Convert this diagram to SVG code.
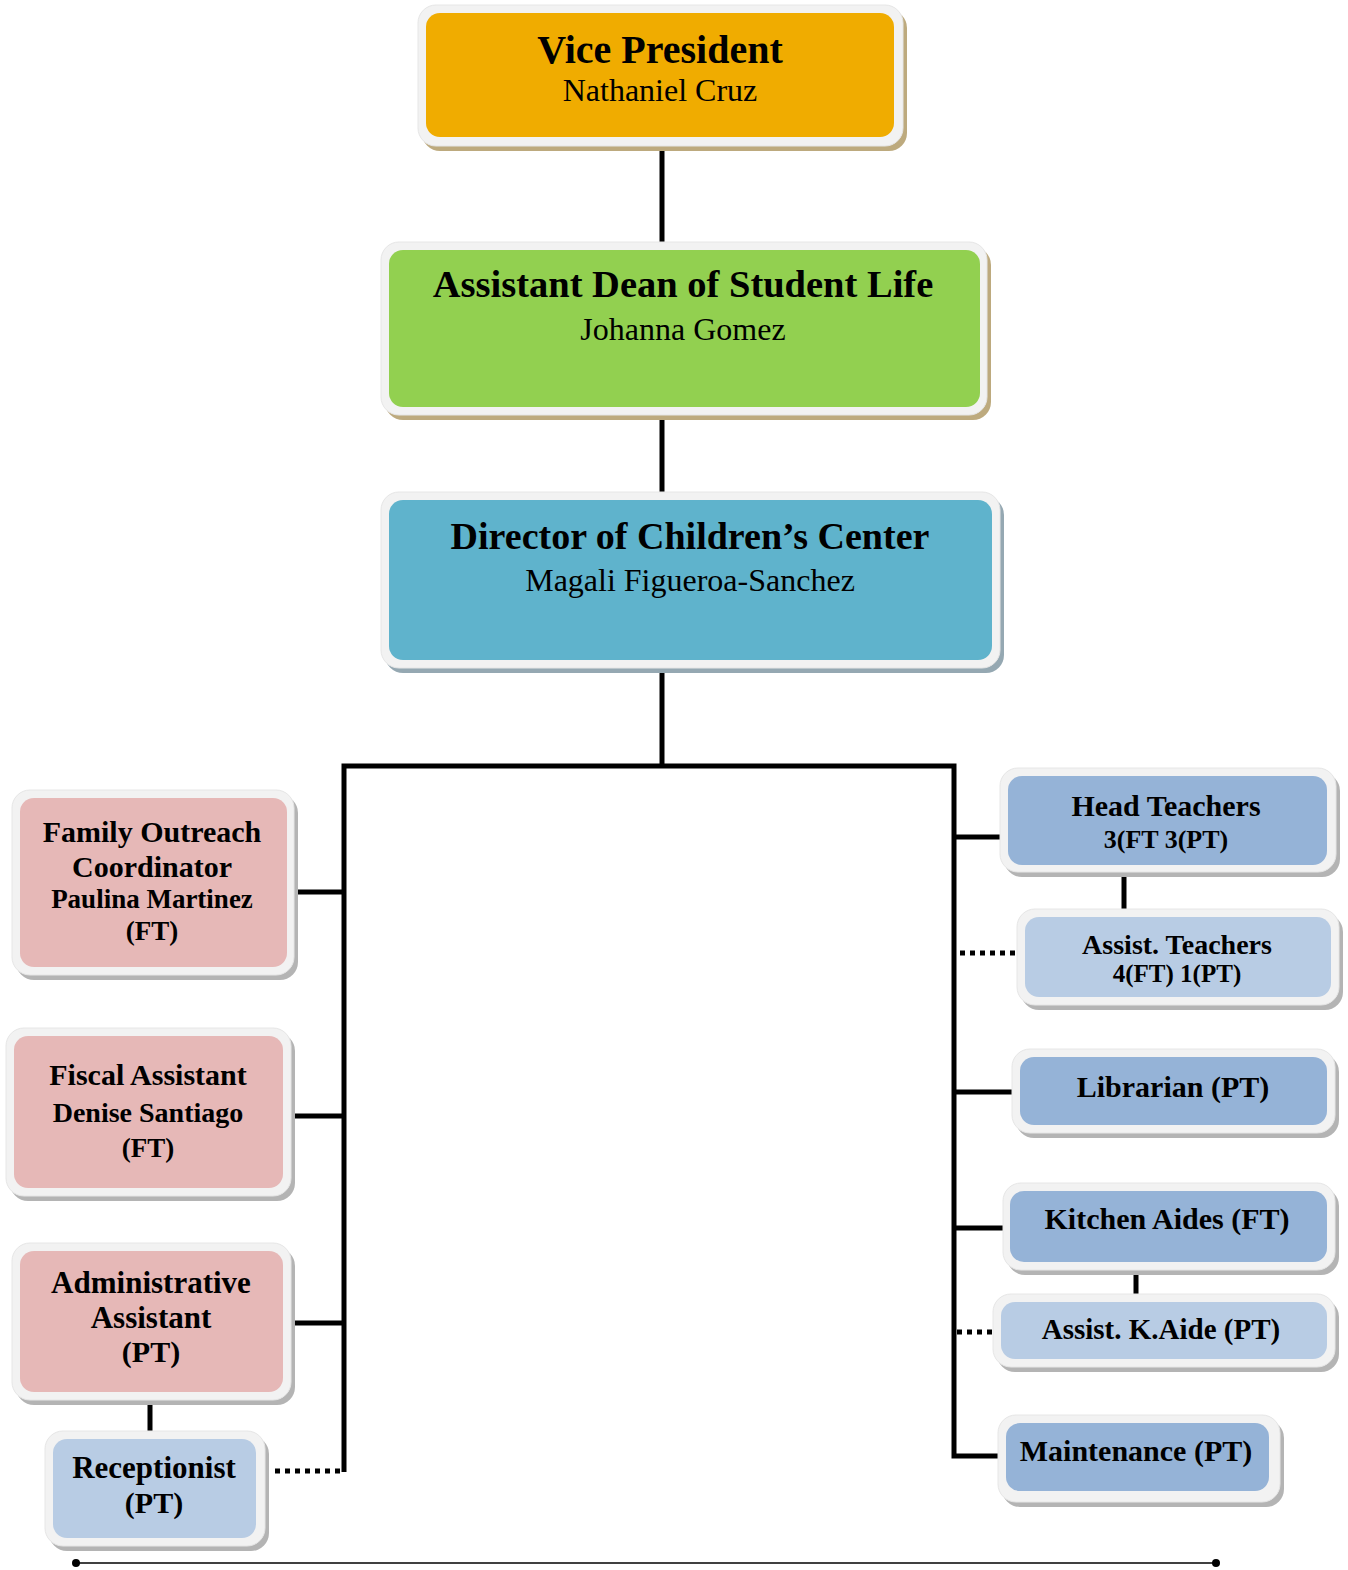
<svg xmlns="http://www.w3.org/2000/svg" width="1348" height="1570" viewBox="0 0 1348 1570">
<style>
.frame{fill:#F2F2F2;stroke:#E6E6E6;stroke-width:1}
.sh-tan{fill:#BDAA7E}
.sh-blue{fill:#95A8B2}
.sh-gray{fill:#B4B4B4}
.gold{fill:#F0AC00}
.green{fill:#92D050}
.teal{fill:#5FB3CC}
.pink{fill:#E6B8B7}
.blue{fill:#95B3D7}
.lblue{fill:#B8CCE4}
text{font-family:"Liberation Serif","Times New Roman",serif;fill:#000;text-anchor:middle}
.b{font-weight:bold}
.line{fill:none;stroke:#000;stroke-width:5}
.dot{fill:none;stroke:#000;stroke-width:5;stroke-dasharray:5 5}
</style>
<g id="connectors">
<line class="line" x1="662" y1="146" x2="662" y2="242"/>
<line class="line" x1="662" y1="415" x2="662" y2="492"/>
<line class="line" x1="662" y1="668" x2="662" y2="766"/>
<path class="line" d="M344,1472 V766 H954 V1456 H1000"/>
<line class="line" x1="294" y1="892" x2="344" y2="892"/>
<line class="line" x1="291" y1="1116" x2="344" y2="1116"/>
<line class="line" x1="291" y1="1323" x2="344" y2="1323"/>
<line class="line" x1="150" y1="1400" x2="150" y2="1431"/>
<line class="dot" x1="275" y1="1471" x2="342" y2="1471"/>
<line class="line" x1="954" y1="837" x2="1000" y2="837"/>
<line class="line" x1="1124" y1="872" x2="1124" y2="909"/>
<line class="dot" x1="960" y1="953" x2="1017" y2="953"/>
<line class="line" x1="954" y1="1092" x2="1012" y2="1092"/>
<line class="line" x1="954" y1="1228" x2="1003" y2="1228"/>
<line class="line" x1="1136" y1="1270" x2="1136" y2="1294"/>
<line class="dot" x1="957" y1="1332" x2="993" y2="1332"/>
<line x1="76" y1="1563" x2="1216" y2="1563" stroke="#404040" stroke-width="2"/>
<circle cx="76" cy="1563" r="4" fill="#000"/>
<circle cx="1216" cy="1563" r="4" fill="#000"/>
</g>
<g id="vp">
<rect class="sh-tan" x="422" y="10" width="485" height="141" rx="18"/>
<rect class="frame" x="418" y="5" width="485" height="141" rx="18"/>
<rect class="gold" x="426" y="13" width="468" height="124" rx="14"/>
<text class="b" x="660" y="63" font-size="40">Vice President</text>
<text x="660" y="101" font-size="32">Nathaniel Cruz</text>
</g>
<g id="adsl">
<rect class="sh-tan" x="385" y="247" width="606" height="173" rx="18"/>
<rect class="frame" x="381" y="242" width="606" height="173" rx="18"/>
<rect class="green" x="389" y="250" width="591" height="157" rx="14"/>
<text class="b" x="683" y="297" font-size="38.5">Assistant Dean of Student Life</text>
<text x="683" y="340" font-size="32">Johanna Gomez</text>
</g>
<g id="director">
<rect class="sh-blue" x="385" y="497" width="619" height="176" rx="18"/>
<rect class="frame" x="381" y="492" width="619" height="176" rx="18"/>
<rect class="teal" x="389" y="500" width="603" height="160" rx="14"/>
<text class="b" x="690" y="549" font-size="38">Director of Children’s Center</text>
<text x="690" y="591" font-size="32">Magali Figueroa-Sanchez</text>
</g>
<g id="family-outreach">
<rect class="sh-gray" x="16" y="795" width="282" height="185" rx="18"/>
<rect class="frame" x="12" y="790" width="282" height="185" rx="18"/>
<rect class="pink" x="20" y="798" width="267" height="169" rx="14"/>
<text class="b" x="152" y="842" font-size="30">Family Outreach</text>
<text class="b" x="152" y="877" font-size="30">Coordinator</text>
<text class="b" x="152" y="908" font-size="27">Paulina Martinez</text>
<text class="b" x="152" y="940" font-size="27">(FT)</text>
</g>
<g id="fiscal">
<rect class="sh-gray" x="10" y="1033" width="285" height="168" rx="18"/>
<rect class="frame" x="6" y="1028" width="285" height="168" rx="18"/>
<rect class="pink" x="14" y="1036" width="269" height="152" rx="14"/>
<text class="b" x="148" y="1085" font-size="30">Fiscal Assistant</text>
<text class="b" x="148" y="1122" font-size="28">Denise Santiago</text>
<text class="b" x="148" y="1157" font-size="27">(FT)</text>
</g>
<g id="admin">
<rect class="sh-gray" x="16" y="1248" width="279" height="157" rx="18"/>
<rect class="frame" x="12" y="1243" width="279" height="157" rx="18"/>
<rect class="pink" x="20" y="1251" width="263" height="141" rx="14"/>
<text class="b" x="151" y="1293" font-size="31">Administrative</text>
<text class="b" x="151" y="1328" font-size="31">Assistant</text>
<text class="b" x="151" y="1362" font-size="30">(PT)</text>
</g>
<g id="receptionist">
<rect class="sh-gray" x="49" y="1436" width="220" height="115" rx="18"/>
<rect class="frame" x="45" y="1431" width="220" height="115" rx="18"/>
<rect class="lblue" x="53" y="1439" width="203" height="99" rx="14"/>
<text class="b" x="154" y="1478" font-size="31">Receptionist</text>
<text class="b" x="154" y="1513" font-size="30">(PT)</text>
</g>
<g id="head-teachers">
<rect class="sh-gray" x="1004" y="773" width="336" height="104" rx="18"/>
<rect class="frame" x="1000" y="768" width="336" height="104" rx="18"/>
<rect class="blue" x="1008" y="776" width="319" height="89" rx="14"/>
<text class="b" x="1166" y="816" font-size="30">Head Teachers</text>
<text class="b" x="1166" y="848" font-size="26">3(FT 3(PT)</text>
</g>
<g id="assist-teachers">
<rect class="sh-gray" x="1021" y="914" width="322" height="96" rx="18"/>
<rect class="frame" x="1017" y="909" width="322" height="96" rx="18"/>
<rect class="lblue" x="1025" y="917" width="306" height="80" rx="14"/>
<text class="b" x="1177" y="954" font-size="28">Assist. Teachers</text>
<text class="b" x="1177" y="982" font-size="25">4(FT) 1(PT)</text>
</g>
<g id="librarian">
<rect class="sh-gray" x="1016" y="1054" width="323" height="84" rx="18"/>
<rect class="frame" x="1012" y="1049" width="323" height="84" rx="18"/>
<rect class="blue" x="1020" y="1057" width="307" height="68" rx="14"/>
<text class="b" x="1173" y="1097" font-size="30">Librarian (PT)</text>
</g>
<g id="kitchen-aides">
<rect class="sh-gray" x="1007" y="1188" width="332" height="87" rx="18"/>
<rect class="frame" x="1003" y="1183" width="332" height="87" rx="18"/>
<rect class="blue" x="1010" y="1191" width="317" height="71" rx="14"/>
<text class="b" x="1167" y="1229" font-size="30">Kitchen Aides (FT)</text>
</g>
<g id="assist-kaide">
<rect class="sh-gray" x="997" y="1299" width="342" height="73" rx="18"/>
<rect class="frame" x="993" y="1294" width="342" height="73" rx="18"/>
<rect class="lblue" x="1001" y="1302" width="326" height="57" rx="14"/>
<text class="b" x="1161" y="1339" font-size="29">Assist. K.Aide (PT)</text>
</g>
<g id="maintenance">
<rect class="sh-gray" x="1002" y="1420" width="282" height="87" rx="18"/>
<rect class="frame" x="998" y="1415" width="282" height="87" rx="18"/>
<rect class="blue" x="1006" y="1423" width="263" height="68" rx="14"/>
<text class="b" x="1136" y="1461" font-size="30">Maintenance (PT)</text>
</g>
</svg>
